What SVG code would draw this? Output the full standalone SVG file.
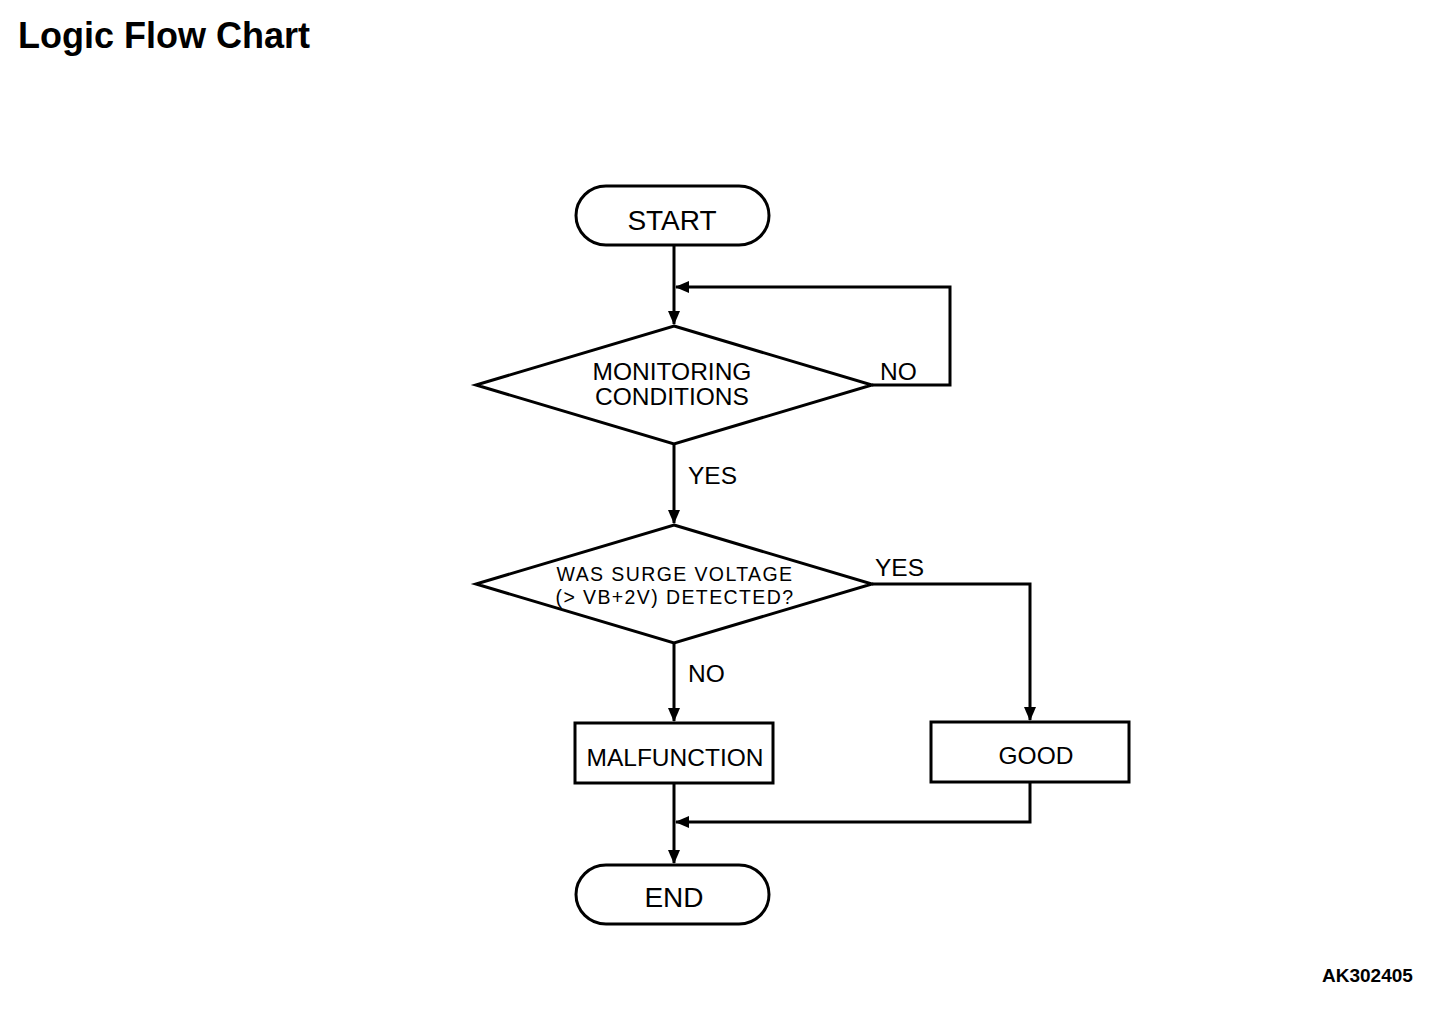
<svg xmlns="http://www.w3.org/2000/svg" width="1456" height="1010" viewBox="0 0 1456 1010">
<style>
.s{fill:#fff;stroke:#000;stroke-width:3}
.c{fill:none;stroke:#000;stroke-width:3}
text{font-family:"Liberation Sans",Arial,sans-serif;fill:#000}
.n{font-size:28px;text-anchor:middle}
.d{font-size:24.5px;text-anchor:middle}
.q{font-size:19.5px;letter-spacing:1.4px;text-anchor:middle}
.l{font-size:24.5px}
</style>
<defs>
<marker id="a" markerWidth="14" markerHeight="12" refX="13" refY="6" orient="auto" markerUnits="userSpaceOnUse">
<path d="M0,0 L14,6 L0,12 Z" fill="#000"/>
</marker>
</defs>
<rect width="1456" height="1010" fill="#fff"/>
<text x="18" y="48" font-size="36" font-weight="bold">Logic Flow Chart</text>
<text x="1322" y="982" font-size="19" font-weight="bold">AK302405</text>
<g id="connectors">
<path class="c" d="M674,245 V324" marker-end="url(#a)"/>
<path class="c" d="M872,385 H950 V287 H676" marker-end="url(#a)"/>
<path class="c" d="M674,444 V523" marker-end="url(#a)"/>
<path class="c" d="M872,584 H1030 V720" marker-end="url(#a)"/>
<path class="c" d="M674,643 V721" marker-end="url(#a)"/>
<path class="c" d="M1030,782 V822 H676" marker-end="url(#a)"/>
<path class="c" d="M674,783 V863" marker-end="url(#a)"/>
<text class="l" x="880" y="380">NO</text>
<text class="l" x="688" y="484">YES</text>
<text class="l" x="875" y="576">YES</text>
<text class="l" x="688" y="682">NO</text>
</g>
<g id="start">
<rect class="s" x="576" y="186" width="193" height="59" rx="30"/>
<text class="n" x="672" y="230">START</text>
</g>
<g id="monitoring">
<polygon class="s" points="674,326 872,385 674,444 476,385"/>
<text class="d" x="672" y="380">MONITORING</text>
<text class="d" x="672" y="405">CONDITIONS</text>
</g>
<g id="surge">
<polygon class="s" points="674,525 872,584 674,643 476,584"/>
<text class="q" x="675" y="581">WAS SURGE VOLTAGE</text>
<text class="q" x="675" y="604">(&gt; VB+2V) DETECTED?</text>
</g>
<g id="malfunction">
<rect class="s" x="575" y="723" width="198" height="60"/>
<text class="d" x="675" y="766">MALFUNCTION</text>
</g>
<g id="good">
<rect class="s" x="931" y="722" width="198" height="60"/>
<text class="d" x="1036" y="764">GOOD</text>
</g>
<g id="end">
<rect class="s" x="576" y="865" width="193" height="59" rx="30"/>
<text class="n" x="674" y="907">END</text>
</g>
</svg>
